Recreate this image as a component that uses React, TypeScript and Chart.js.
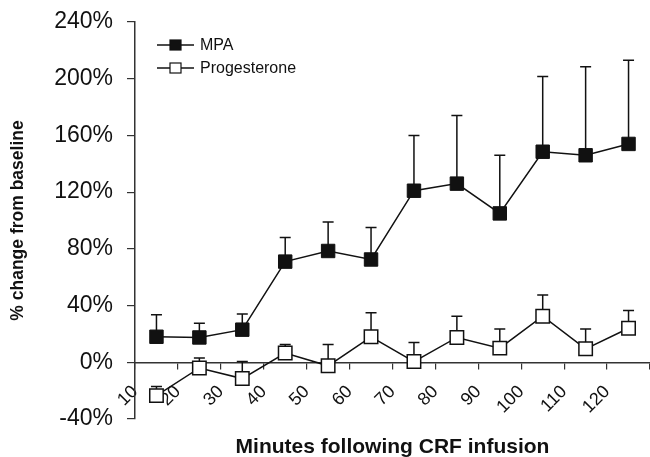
import React, { useEffect, useRef } from 'react';
import { Chart, registerables } from 'chart.js';

Chart.register(...registerables);

// ---- data ----
const minutes = [15, 25, 35, 45, 55, 65, 75, 85, 95, 105, 115, 125];
const mpaValues = [18, 17.5, 23, 71, 78.5, 72.5, 121, 126, 105, 148.5, 146, 154];
const mpaUpper = [33.5, 27.5, 34, 88, 99, 95, 160, 174, 146, 201.5, 208.5, 213];
const progValues = [-23.5, -4, -11.5, 6.5, -2.5, 18, 0.5, 17.5, 10, 32.5, 9.5, 24];
const progUpper = [-17, 3, 0.5, 12.5, 12.5, 35, 14, 32.5, 23.5, 47.5, 23.5, 36.5];
const seriesLabels = ['MPA', 'Progesterone'];
const xTickLabels = ['10', '20', '30', '40', '50', '60', '70', '80', '90', '100', '110', '120'];
const yTickValues = [-40, 0, 40, 80, 120, 160, 200, 240];

const FONT = "'Liberation Sans', Arial, Helvetica, sans-serif";
const INK = '#111111';

const errorBarsPlugin = {
  id: 'errorBars',
  beforeDatasetsDraw(chart: any, _args: any, opts: any) {
    const { ctx, scales } = chart;
    const xs = scales.x;
    const ys = scales.y;
    ctx.save();
    ctx.strokeStyle = INK;
    ctx.lineWidth = 1.5;
    chart.data.datasets.forEach((ds: any, i: number) => {
      const upper: number[] = opts.upper[i];
      ds.data.forEach((pt: any, j: number) => {
        const px = xs.getPixelForValue(pt.x);
        const py = ys.getPixelForValue(pt.y);
        const pu = ys.getPixelForValue(upper[j]);
        ctx.beginPath();
        ctx.moveTo(px, py);
        ctx.lineTo(px, pu);
        ctx.moveTo(px - 5.5, pu);
        ctx.lineTo(px + 5.5, pu);
        ctx.stroke();
      });
    });
    ctx.restore();
  },
};

// legend drawn as "line - marker - line" symbols inside the plot area
const inlineLegendPlugin = {
  id: 'inlineLegend',
  afterDatasetsDraw(chart: any, _args: any, opts: any) {
    const { ctx, chartArea } = chart;
    const x0 = chartArea.left + opts.offsetX;
    let y = chartArea.top + opts.offsetY;
    ctx.save();
    chart.data.datasets.forEach((ds: any) => {
      ctx.strokeStyle = INK;
      ctx.lineWidth = 1.5;
      ctx.beginPath();
      ctx.moveTo(x0, y);
      ctx.lineTo(x0 + opts.symbolWidth, y);
      ctx.stroke();
      const cx = x0 + opts.symbolWidth / 2;
      ctx.fillStyle = ds.pointBackgroundColor;
      ctx.fillRect(cx - 5.5, y - 5, 11, 10);
      ctx.lineWidth = 1.2;
      ctx.strokeRect(cx - 5.5, y - 5, 11, 10);
      ctx.fillStyle = INK;
      ctx.font = `${opts.fontSize}px ${FONT}`;
      ctx.textAlign = 'left';
      ctx.textBaseline = 'middle';
      ctx.fillText(ds.label, x0 + opts.symbolWidth + 6, y + 1);
      y += opts.rowGap;
    });
    ctx.restore();
  },
};

export default function App() {
  const ref = useRef<HTMLCanvasElement | null>(null);

  useEffect(() => {
    if (!ref.current) return;
    const chart = new Chart(ref.current, {
      type: 'line',
      data: {
        datasets: [
          {
            label: seriesLabels[0],
            data: minutes.map((m, i) => ({ x: m, y: mpaValues[i] })),
            borderColor: INK,
            borderWidth: 1.5,
            pointStyle: 'rect',
            pointRadius: 9.5,
            pointBackgroundColor: INK,
            pointBorderColor: INK,
            pointBorderWidth: 1,
            fill: false,
            tension: 0,
            clip: false,
          },
          {
            label: seriesLabels[1],
            data: minutes.map((m, i) => ({ x: m, y: progValues[i] })),
            borderColor: INK,
            borderWidth: 1.5,
            pointStyle: 'rect',
            pointRadius: 9.5,
            pointBackgroundColor: '#ffffff',
            pointBorderColor: INK,
            pointBorderWidth: 1.5,
            fill: false,
            tension: 0,
            clip: false,
          },
        ],
      },
      options: {
        animation: false,
        responsive: true,
        maintainAspectRatio: false,
        layout: { autoPadding: false, padding: { top: 22, right: 0, bottom: 0, left: 0 } },
        scales: {
          x: {
            type: 'linear',
            min: 10,
            max: 130,
            position: { y: 0 } as any,
            afterFit: (s: any) => {
              s.paddingLeft = 0;
              s.paddingRight = 0;
              s.paddingTop = 0;
              s.paddingBottom = 0;
            },
            ticks: {
              stepSize: 10,
              autoSkip: false,
              maxRotation: 45,
              minRotation: 45,
              padding: 13,
              color: INK,
              font: { family: FONT, size: 18 },
              callback: (v: any) => {
                const idx = Math.round((Number(v) - 10) / 10);
                return xTickLabels[idx] ?? '';
              },
            },
            grid: { drawOnChartArea: false, drawTicks: true, tickLength: 6, color: '#333', lineWidth: 1.2 },
            border: { display: true, color: '#333', width: 1.5 },
          },
          y: {
            min: -40,
            max: 240,
            afterBuildTicks: (s: any) => {
              s.ticks = yTickValues.map((v) => ({ value: v }));
            },
            afterFit: (s: any) => {
              s.width = 135;
              s.paddingTop = 0;
              s.paddingBottom = 0;
            },
            ticks: {
              padding: 14,
              color: INK,
              font: { family: FONT, size: 23 },
              callback: (v: any) => `${v}%`,
            },
            grid: { drawOnChartArea: false, drawTicks: true, tickLength: 8, color: '#333', lineWidth: 1.2 },
            border: { display: true, color: '#333', width: 1.5 },
            title: {
              display: true,
              text: '% change from baseline',
              color: INK,
              font: { family: FONT, size: 17.5, weight: 'bold', lineHeight: 1.2 },
              padding: { top: 8, bottom: 0 },
            },
          },
        },
        plugins: {
          legend: { display: false },
          title: {
            display: true,
            position: 'bottom',
            fullSize: false,
            text: 'Minutes following CRF infusion',
            color: INK,
            font: { family: FONT, size: 21, weight: 'bold', lineHeight: 0.905 },
            padding: { top: 19, bottom: 0 },
          },
          tooltip: { enabled: false },
          errorBars: { upper: [mpaUpper, progUpper] },
          inlineLegend: { offsetX: 22, offsetY: 23, rowGap: 23, symbolWidth: 37, fontSize: 16 },
        } as any,
      },
      plugins: [errorBarsPlugin, inlineLegendPlugin],
    });
    return () => chart.destroy();
  }, []);

  return (
    <div style={{ position: 'absolute', left: 0, top: 0, width: 650, height: 457, background: '#fff' }}>
      <canvas ref={ref} />
    </div>
  );
}
